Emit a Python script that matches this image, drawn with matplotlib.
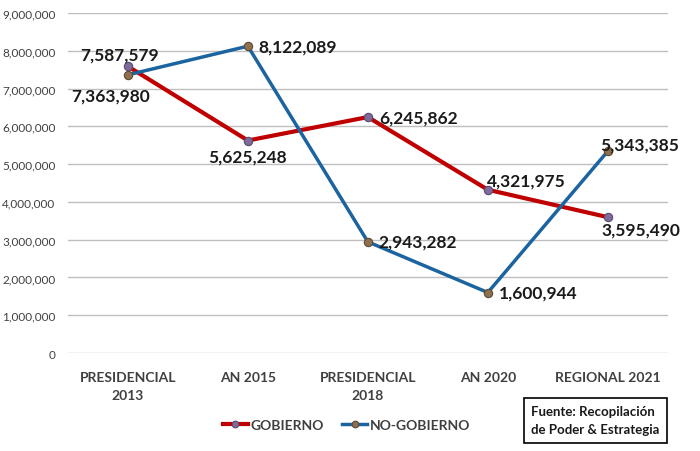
import matplotlib.pyplot as plt
from matplotlib.ticker import FuncFormatter

categories = ["PRESIDENCIAL\n2013", "AN 2015", "PRESIDENCIAL\n2018", "AN 2020", "REGIONAL 2021"]
gobierno = [7587579, 5625248, 6245862, 4321975, 3595490]
no_gobierno = [7363980, 8122089, 2943282, 1600944, 5343385]

# label offsets in pixels (dx, dy, ha)
gob_offsets = [(-8, 12, "center"), (0, -16, "center"), (11, 0, "left"), (-1, 9, "left"), (-6, -12, "left")]
nog_offsets = [(-17, -21, "center"), (11, 0, "left"), (11, 0, "left"), (11, 0, "left"), (-8, 7, "left")]

plt.rcParams["font.family"] = ["Lato", "DejaVu Sans"]

fig = plt.figure(figsize=(7, 4.52), dpi=100)
ax = fig.add_axes([0.097, 0.2168, 0.857, 0.7522])

x = list(range(len(categories)))
ax.plot(x, gobierno, color="#C00000", lw=3, marker="o", ms=6,
        mfc="#7F6A9A", mec="#5A4A70", mew=0.8, label="GOBIERNO", zorder=3)
ax.plot(x, no_gobierno, color="#1B64A0", lw=2.5, marker="o", ms=6,
        mfc="#8C7050", mec="#5C4A35", mew=0.8, label="NO-GOBIERNO", zorder=3)

for vals, offs in ((gobierno, gob_offsets), (no_gobierno, nog_offsets)):
    for i, v in enumerate(vals):
        dx, dy, ha = offs[i]
        ax.annotate(f"{v:,}", (i, v), xytext=(dx, dy), textcoords="offset pixels",
                    ha=ha, va="center", fontsize=12.5, fontweight="bold", color="#1a1a1a")

ax.set_xlim(-0.5, len(categories) - 0.5)
ax.set_ylim(0, 9000000)
ax.set_yticks(range(0, 9000001, 1000000))
ax.yaxis.set_major_formatter(FuncFormatter(lambda v, p: f"{int(v):,}"))
ax.set_xticks(x)
ax.set_xticklabels(categories, fontsize=10, fontweight="bold", color="#404040", linespacing=1.6)
ax.tick_params(axis="y", labelsize=8.5, colors="#404040", length=0, pad=9)
ax.tick_params(axis="x", length=0, pad=13)
ax.grid(axis="y", color="#BFBFBF", lw=1)
ax.set_axisbelow(True)
for s in ax.spines.values():
    s.set_visible(False)

leg = fig.legend(loc="center", bbox_to_anchor=(0.495, 0.058), ncol=2, frameon=False,
                 prop={"weight": "bold", "size": 10}, handlelength=1.8, columnspacing=1.3,
                 handletextpad=0.2, markerscale=0.8)
for t in leg.get_texts():
    t.set_color("#404040")

fig.text(0.759, 0.068, "Fuente: Recopilación\nde Poder & Estrategia", fontsize=9.5,
         fontweight="bold", color="#1a1a1a", ha="left", va="center", linespacing=1.6,
         bbox=dict(boxstyle="square,pad=0.55", fc="white", ec="black", lw=1.2))

fig.savefig("out.png", dpi=100)
